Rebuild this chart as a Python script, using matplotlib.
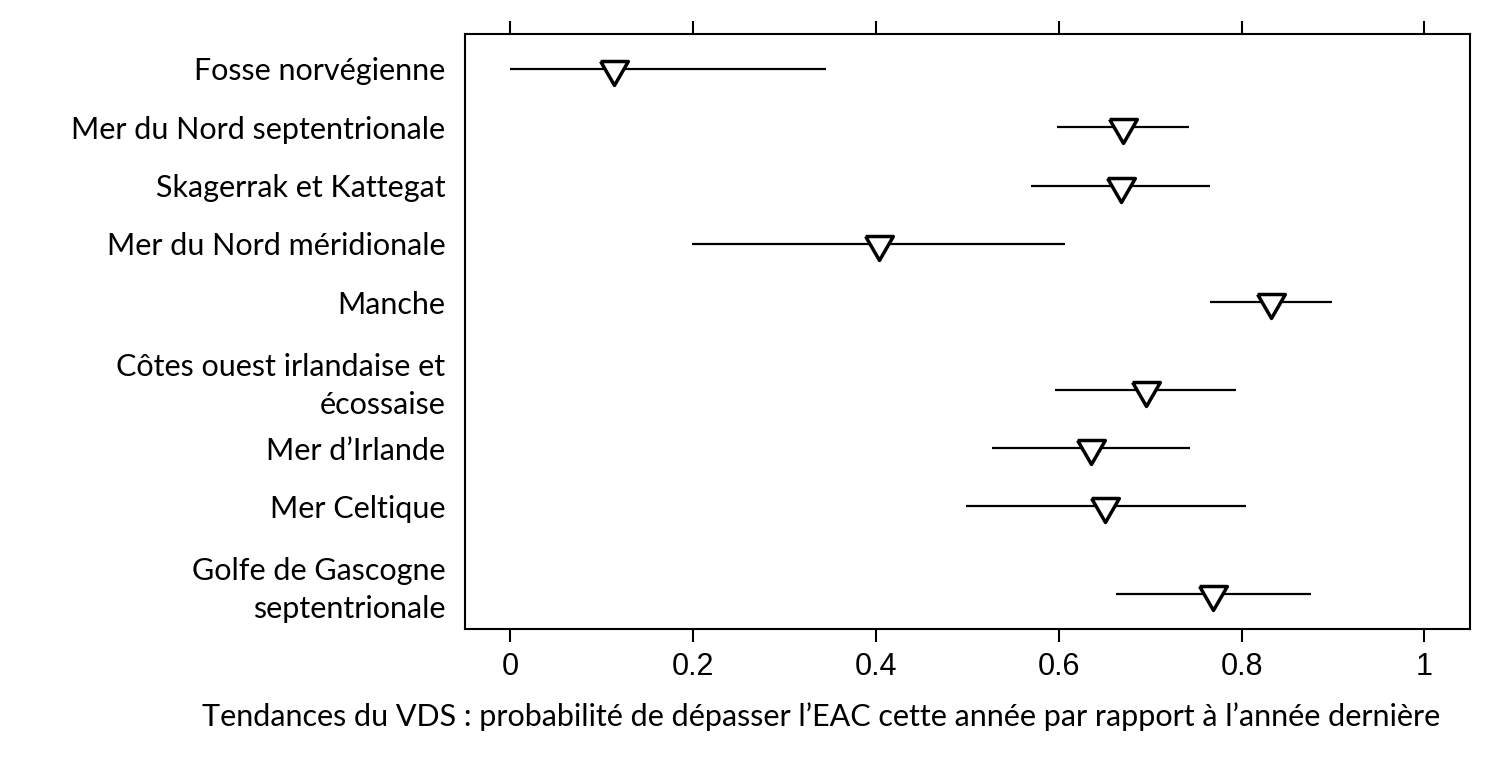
import numpy as np
import matplotlib
matplotlib.use("Agg")
import matplotlib.pyplot as plt
from matplotlib.transforms import ScaledTranslation

# ---- data ----
zones = [
    "Fosse norvégienne",
    "Mer du Nord septentrionale",
    "Skagerrak et Kattegat",
    "Mer du Nord méridionale",
    "Manche",
    "Côtes ouest irlandaise et\nécossaise",
    "Mer d’Irlande",
    "Mer Celtique",
    "Golfe de Gascogne\nseptentrionale",
]
median = [0.113, 0.670, 0.668, 0.403, 0.832, 0.695, 0.635, 0.651, 0.769]
low = [0.000, 0.598, 0.570, 0.199, 0.766, 0.596, 0.527, 0.498, 0.663]
high = [0.345, 0.743, 0.766, 0.607, 0.899, 0.794, 0.744, 0.805, 0.876]
xticks = [0, 0.2, 0.4, 0.6, 0.8, 1]
xticklabels = ["0", "0.2", "0.4", "0.6", "0.8", "1"]
xlabel = "Tendances du VDS : probabilité de dépasser l’EAC cette année par rapport à l’année dernière"

# row positions: two-line labels get a bit more room
ypos = []
y = 0.0
for i, z in enumerate(zones):
    if i > 0:
        y += 1 + 0.5 * z.count("\n")
    ypos.append(y)

# downward triangle with its centroid on the data point
h = np.sqrt(3)
tri = [(-1, h / 3), (1, h / 3), (0, -2 * h / 3), (-1, h / 3)]

fig = plt.figure(figsize=(15, 7.71), dpi=100)
ax = fig.add_axes([0.3098, 0.1842, 0.98 - 0.3098, 0.9559 - 0.1842])

ax.hlines(ypos, low, high, color="black", lw=1.6, zorder=2)
ax.plot(median, ypos, ls="none", marker=tri, markersize=23,
        markerfacecolor="white", markeredgecolor="black", markeredgewidth=2.5,
        zorder=3)

ax.set_xlim(-0.05, 1.05)
ax.set_ylim(ypos[-1] + 0.6, -0.6)

ax.set_xticks(xticks)
ax.set_xticklabels(xticklabels, family="Liberation Sans", fontsize=22)
ax.tick_params(axis="x", top=True, labeltop=False, direction="out",
               length=9.5, width=1.5, pad=7)

ax.set_yticks(ypos)
ax.set_yticklabels(zones, family="Lato", fontsize=22, linespacing=1.45)
ax.tick_params(axis="y", length=0, pad=14)

# two-line labels sit a little higher than their row in the original
for lab in ax.get_yticklabels():
    if "\n" in lab.get_text():
        lab.set_transform(lab.get_transform() +
                          ScaledTranslation(0, 8.5 / 72, fig.dpi_scale_trans))

for s in ax.spines.values():
    s.set_linewidth(1.5)

fig.text(821 / 1500, 1 - 717 / 771, xlabel, family="Lato", fontsize=22,
         ha="center", va="center")

fig.savefig("out.png", dpi=100)
